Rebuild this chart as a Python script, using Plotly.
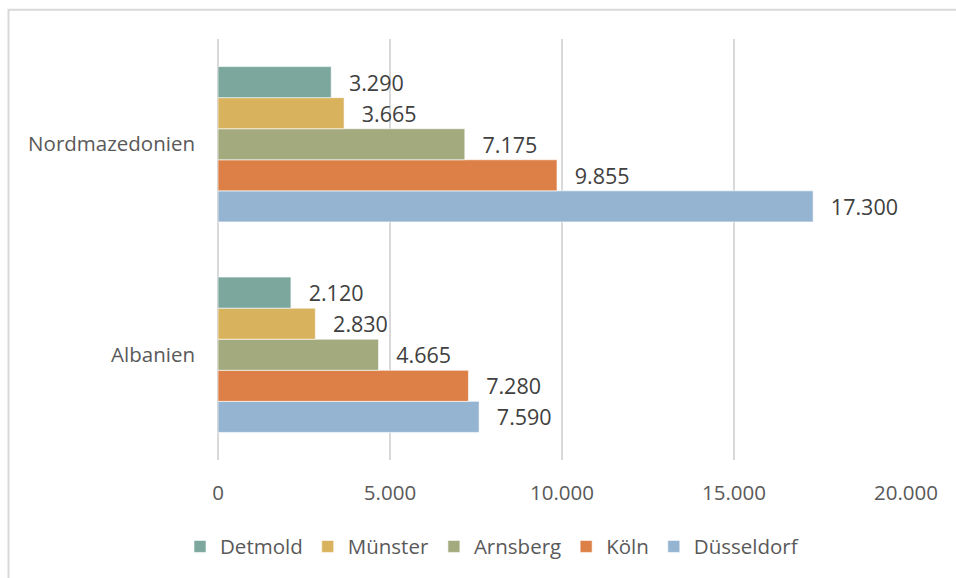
import plotly.graph_objects as go

categories = ["Albanien", "Nordmazedonien"]
series_names = ["Detmold", "Münster", "Arnsberg", "Köln", "Düsseldorf"]
detmold = [2120, 3290]
muenster = [2830, 3665]
arnsberg = [4665, 7175]
koeln = [7280, 9855]
duesseldorf = [7590, 17300]
colors = ["#7BA79D", "#D9B25E", "#A3AA7E", "#DD8047", "#94B4D2"]
x_ticks = [0, 5000, 10000, 15000, 20000]

values = [detmold, muenster, arnsberg, koeln, duesseldorf]

W, H = 956, 578
L, R, T, B = 218, 50, 39, 116
pw, ph = W - L - R, H - T - B

fig = go.Figure()
# add in reverse so Detmold sits on top of each group
for name, vals, col in reversed(list(zip(series_names, values, colors))):
    fig.add_trace(go.Bar(
        name=name, y=categories, x=vals, orientation="h",
        marker=dict(color=col, line=dict(color="white", width=0.6)),
        text=vals, texttemplate="\u00a0\u00a0\u2009%{x:,.0f}",
        textposition="outside", cliponaxis=False, constraintext="none",
        textfont=dict(color="#404040", size=21.5, family="Open Sans"),
        hoverinfo="skip",
    ))

fig.update_layout(
    width=W, height=H,
    margin=dict(l=L, r=R, t=T, b=B, pad=0),
    separators=",.",
    barmode="group", bargap=0.262, bargroupgap=0,
    paper_bgcolor="white", plot_bgcolor="white",
    font=dict(family="Open Sans", size=20.5, color="#595959"),
    showlegend=True,
    legend=dict(orientation="h", traceorder="reversed",
                x=(492 - L) / pw, xanchor="center",
                y=(T + ph - 549) / ph, yanchor="middle",
                font=dict(size=20.5, color="#595959"),
                itemwidth=30, bgcolor="rgba(0,0,0,0)"),
    xaxis=dict(range=[0, 20000], tickvals=x_ticks, tickformat=",.0f",
               showgrid=True, gridcolor="#D9D9D9", gridwidth=1.5,
               zeroline=True, zerolinecolor="#D9D9D9", zerolinewidth=1.5,
               showline=False, ticks="", ticklabelstandoff=18,
               tickfont=dict(size=20.5, color="#595959"), fixedrange=True),
    yaxis=dict(showgrid=False, zeroline=False, showline=False, ticks="",
               ticklabelstandoff=22,
               tickfont=dict(size=20.5, color="#595959"), fixedrange=True),
    shapes=[dict(type="rect", xref="paper", yref="paper",
                 x0=(8.5 - L) / pw, x1=(W + 10 - L) / pw,
                 y0=(T + ph - (H + 10)) / ph, y1=(T + ph - 9.5) / ph,
                 line=dict(color="#D9D9D9", width=2), fillcolor="rgba(0,0,0,0)",
                 layer="below")],
)

fig.write_html("out.html")
